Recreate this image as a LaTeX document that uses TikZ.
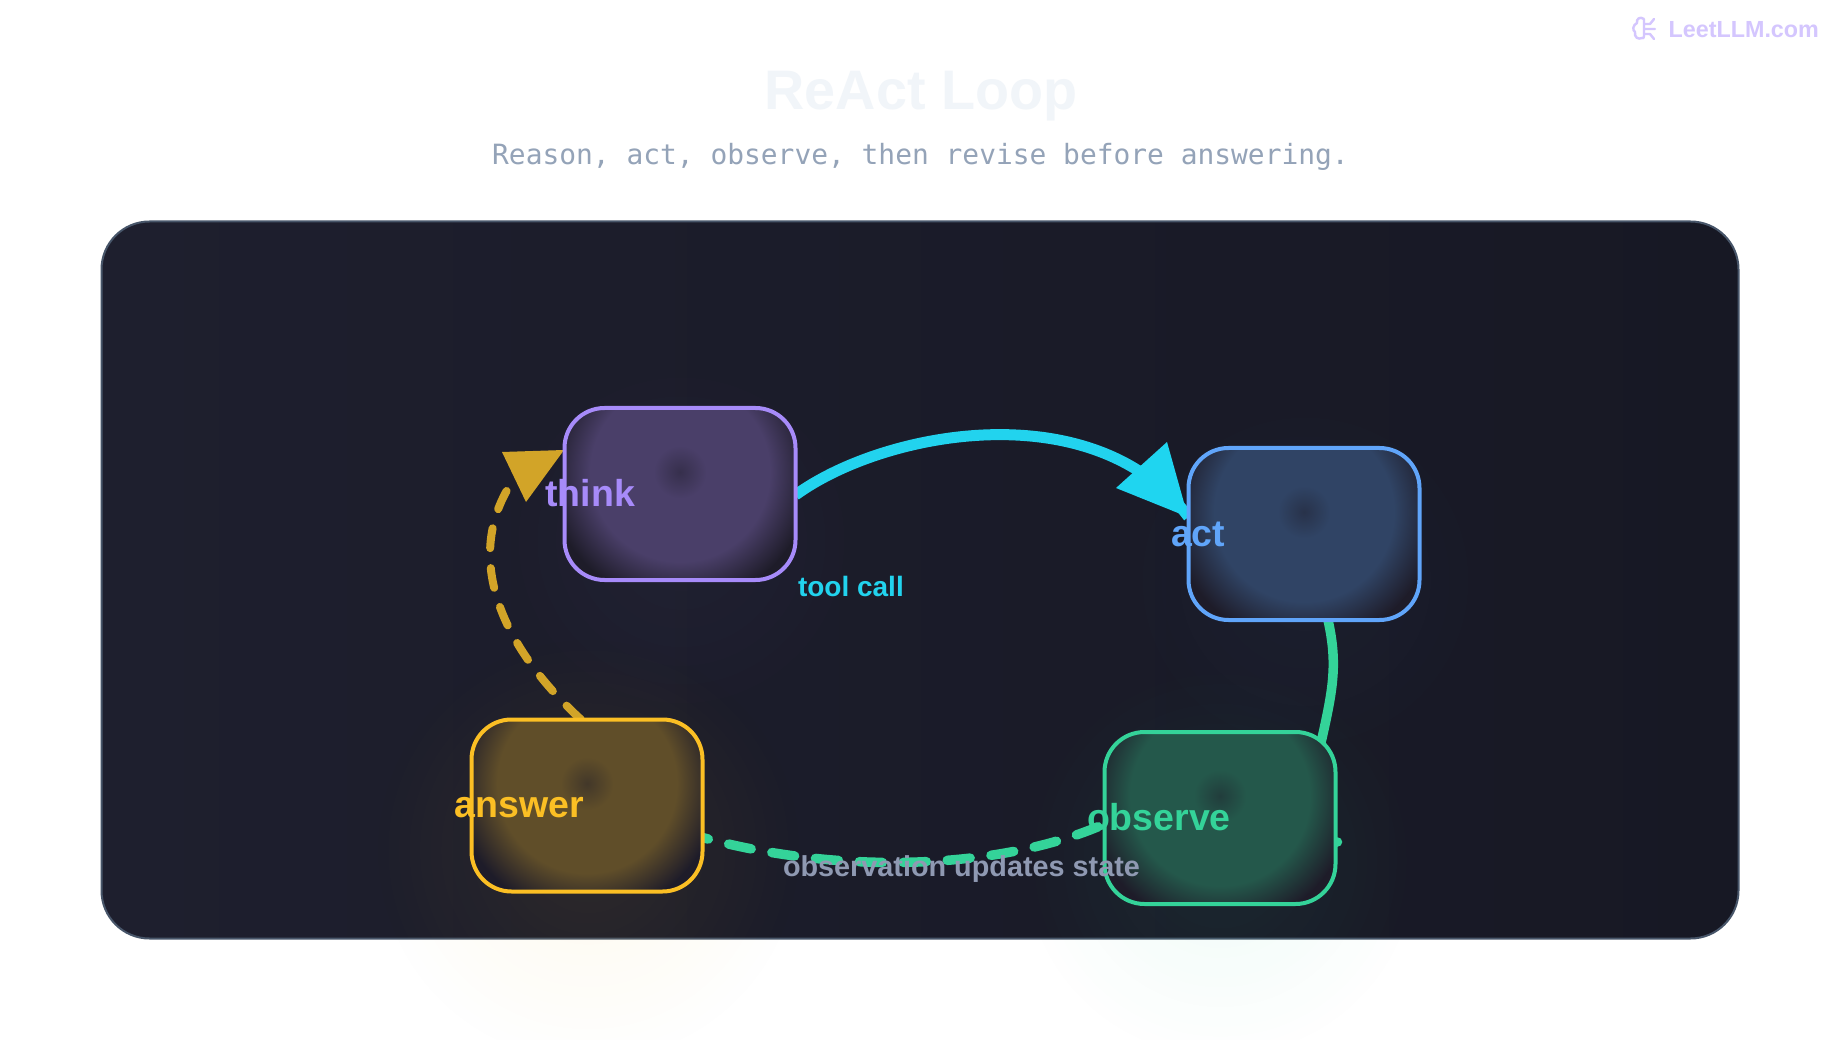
\documentclass[tikz,border=0pt]{standalone}
\usepackage{fontspec}
\setmainfont{Liberation Sans}
\newfontfamily\monofam{DejaVu Sans Mono}
\usetikzlibrary{arrows.meta,calc,fadings}
\definecolor{pviolet}{HTML}{A78BFA}
\definecolor{pblue}{HTML}{60A5FA}
\definecolor{pgreen}{HTML}{34D399}
\definecolor{pyellow}{HTML}{FBBF24}
\definecolor{pcyan}{HTML}{22D3EE}
\definecolor{cyanhead}{HTML}{1FD5F0}
\definecolor{pgold}{HTML}{D2A428}
\definecolor{pslate}{HTML}{94A3B8}
\definecolor{labelgrey}{HTML}{8F99B2}
\definecolor{titlec}{HTML}{F1F5F9}
\definecolor{logoc}{HTML}{D4C6FE}
\definecolor{panelL}{HTML}{1E1F2E}
\definecolor{panelR}{HTML}{171824}
\definecolor{paneledge}{HTML}{475569}
\definecolor{boxdark}{HTML}{1E1C29}
\definecolor{thinkfill}{HTML}{4A3F69}
\definecolor{actfill}{HTML}{304465}
\definecolor{obsfill}{HTML}{24584B}
\definecolor{ansfill}{HTML}{604E29}
\pgfdeclareradialshading{glowviolet}{\pgfpointorigin}{color(0bp)=(thinkfill!55!boxdark); color(5bp)=(thinkfill); color(17bp)=(thinkfill); color(25bp)=(boxdark); color(50bp)=(boxdark)}
\pgfdeclareradialshading{glowblue}{\pgfpointorigin}{color(0bp)=(actfill!55!boxdark); color(5bp)=(actfill); color(17bp)=(actfill); color(25bp)=(boxdark); color(50bp)=(boxdark)}
\pgfdeclareradialshading{glowgreen}{\pgfpointorigin}{color(0bp)=(obsfill!55!boxdark); color(5bp)=(obsfill); color(17bp)=(obsfill); color(25bp)=(boxdark); color(50bp)=(boxdark)}
\pgfdeclareradialshading{glowyellow}{\pgfpointorigin}{color(0bp)=(ansfill!55!boxdark); color(5bp)=(ansfill); color(17bp)=(ansfill); color(25bp)=(boxdark); color(50bp)=(boxdark)}
\tikzfading[name=softglow, inner color=transparent!92, outer color=transparent!100]
\tikzfading[name=faintglow, inner color=transparent!96, outer color=transparent!100]
\tikzset{
  statebox/.style n args={2}{draw=#1, line width=4pt, rounded corners=40pt, minimum width=231pt, minimum height=172pt,
    outer sep=0pt, inner sep=0pt, fill=boxdark,
    path picture={\shade[shading=#2] ($(path picture bounding box.center)+(0,-22)$) circle (132);}},
  anchorbox/.style={minimum width=231pt,minimum height=172pt,inner sep=0pt,outer sep=0pt},
  statelabel/.style={anchor=base west, inner sep=0pt, outer sep=0pt, font=\fontsize{37.5}{38}\selectfont\bfseries, text=#1},
  edgelabel/.style n args={2}{anchor=base west, inner sep=0pt, outer sep=0pt, font=\fontsize{#2}{#2}\selectfont\bfseries, text=#1},
  dashgold/.style={draw=pgold, line width=8pt, line cap=round, dash pattern=on 20pt off 20pt},
  dashgreen/.style={draw=pgreen, line width=9.5pt, line cap=round, dash pattern=on 23pt off 21pt, dash phase=17pt},
}
\begin{document}
\begin{tikzpicture}[x=1pt,y=-1pt]
\useasboundingbox (0,0) rectangle (1840,1040);
\fill[white] (0,0) rectangle (1840,1040);
% panel
\node[draw=paneledge, line width=2pt, rounded corners=48pt, left color=panelL, right color=panelR, minimum width=1637pt, minimum height=717pt, inner sep=0pt, outer sep=0pt] (panel) at (920,580) {};
% glows
\fill[pviolet, path fading=faintglow] (681,540) circle (190);
\fill[pblue, path fading=faintglow] (1305,580) circle (190);
\fill[pyellow, path fading=softglow] (588,850) circle (215);
\fill[pgreen, path fading=softglow] (1220,860) circle (200);
% titles
\node[anchor=base, inner sep=0pt, font=\fontsize{55.7}{56}\selectfont\bfseries, text=titlec] (title) at (921,110) {ReAct Loop};
\node[anchor=base, inner sep=0pt, font=\monofam\fontsize{27.9}{28}\selectfont, text=pslate] (subtitle) at (920.5,165) {Reason, act, observe, then revise before answering.};
\node[anchor=base west, inner sep=0pt, font=\fontsize{23.3}{24}\selectfont\bfseries, text=logoc] (logo) at (1668.5,38) {LeetLLM.com};
% logo brain
\draw[logoc, line width=2.4pt, line cap=round, line join=round]
  (1644,19) .. controls (1640,16) and (1636,19) .. (1637,23)
  .. controls (1633,25) and (1632,30) .. (1635,32)
  .. controls (1634,37) and (1638,40) .. (1642,38)
  .. controls (1643,39) and (1644,38) .. (1644,36) -- (1644,19)
  (1645,24) -- (1650,24) -- (1654,19)
  (1645,29) -- (1655,29)
  (1645,34) -- (1650,34) -- (1654,39);
% anchors for the connectors
\path coordinate (thinkC) at (680,494) coordinate (actC) at (1304,534)
  coordinate (obsC) at (1220,818) coordinate (ansC) at (587,805.5);
\node[anchorbox] (thinkA) at (thinkC) {};
\node[anchorbox] (actA) at (actC) {};
\node[anchorbox] (obsA) at (obsC) {};
\node[anchorbox] (ansA) at (ansC) {};
% connectors
\draw[pcyan, line width=11pt] ([yshift=-1pt]thinkA.east) .. controls (885,430) and (1095,392) .. ([yshift=17pt]actA.west);
\fill[cyanhead] (1188,517) -- (1167,442) -- (1116,488) -- cycle;
\draw[pgreen, line width=9.5pt] ([xshift=24pt]actA.south) .. controls (1338,665) and (1333,690) .. ([xshift=100pt,yshift=-15pt]obsA.north);
\draw[dashgreen] ([yshift=-32pt]ansA.east) .. controls (840,875) and (1000,870) .. ([yshift=-6pt]obsA.west) .. controls (1150,790) and (1200,800) .. (obsA.center)
   ([xshift=-4pt,yshift=-24pt]obsA.east) -- ([xshift=3pt,yshift=-24pt]obsA.east);
\draw[dashgold] ([xshift=-6pt]ansA.north) .. controls (505,650) and (461,560) .. (512,482);
\fill[pgold] (564,450) -- (502,452) -- (526,502) -- cycle;
% boxes
\node[statebox={pviolet}{glowviolet}] (think) at (thinkC) {};
\node[statebox={pblue}{glowblue}] (act) at (actC) {};
\node[statebox={pgreen}{glowgreen}] (observe) at (obsC) {};
\node[statebox={pyellow}{glowyellow}] (answer) at (ansC) {};
% labels
\node[statelabel=pviolet] (thinkL) at (545.5,506) {think};
\node[statelabel=pblue] (actL) at (1171,546) {act};
\node[statelabel=pgreen] (observeL) at (1087,830) {observe};
\node[statelabel=pyellow] (answerL) at (454.5,817) {answer};
\node[edgelabel={pcyan}{28}] (toolL) at (798,596) {tool call};
\node[edgelabel={labelgrey}{28.8}] (obsupL) at (783,876) {observation updates state};
\end{tikzpicture}
\end{document}
